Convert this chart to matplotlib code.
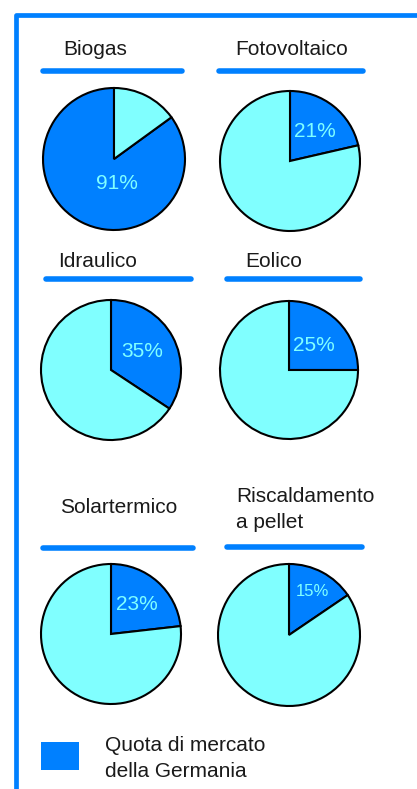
import matplotlib
matplotlib.use("Agg")
import matplotlib.pyplot as plt
from matplotlib.patches import Rectangle

# ---- data ----
categories = ["Biogas", "Fotovoltaico", "Idraulico", "Eolico", "Solartermico", "Riscaldamento\na pellet"]
germany_share_drawn = [85, 21.4, 34.3, 25, 23.2, 15.5]   # wedge sizes as drawn in the picture (%)
germany_share_label = [91, 21, 35, 25, 23, 15]            # printed labels (%)
legend_label = "Quota di mercato\ndella Germania"

# ---- style / layout ----
W, H = 417, 789
DARK = "#0080ff"
LIGHT = "#80ffff"
TXT = "#1a1a1a"
FONT = "Liberation Sans"

fig = plt.figure(figsize=(W / 100, H / 100), dpi=100)
ax = fig.add_axes([0, 0, 1, 1])

def Y(y):
    return H - y

# per-pie layout (pixel coords, y down)
centers = [(114, 159), (290, 161), (111, 370), (289, 370), (111, 634), (289, 635)]
radii = [71, 70, 70, 69, 70, 71]
counterclock = [True, False, False, False, False, False]
label_off = [(3, 24), (25, -30), (31, -19), (25, -25), (26, -29), (23, -43)]
label_size = [15, 15, 15, 15, 15, 12]
# (x, baseline y of last line, ha)
title_pos = [(95, 55, "center"), (292, 55, "center"), (98, 267, "center"),
             (274, 267, "center"), (119, 513, "center"), (236, 528, "left")]
underlines = [(43, 182, 71), (219, 363, 71), (46, 191, 279),
              (227, 360, 279), (43, 193, 548), (227, 362, 547)]

for i, cat in enumerate(categories):
    cx, cy = centers[i]
    s = germany_share_drawn[i]
    ax.pie([s, 100 - s], colors=[DARK, LIGHT], startangle=90,
           counterclock=counterclock[i], center=(cx, Y(cy)), radius=radii[i],
           wedgeprops=dict(edgecolor="black", linewidth=1.5), frame=True)
    dx, dy = label_off[i]
    ax.text(cx + dx, Y(cy + dy), f"{germany_share_label[i]}%", color=LIGHT,
            fontsize=label_size[i], family=FONT, ha="center", va="center")
    tx, ty, ha = title_pos[i]
    ax.text(tx, Y(ty), cat, fontsize=15, family=FONT, color=TXT, ha=ha,
            va="baseline", linespacing=1.45)
    x0, x1, uy = underlines[i]
    ax.plot([x0, x1], [Y(uy), Y(uy)], color=DARK, linewidth=4, solid_capstyle="round")

# border (left + top)
ax.plot([16, 16, W + 5], [-5, Y(15), Y(15)], color=DARK, linewidth=3.4,
        solid_joinstyle="round")

# legend
ax.add_patch(Rectangle((41, Y(770)), 38, 28, facecolor=DARK, edgecolor="none"))
ax.text(105, Y(777), legend_label, fontsize=15, family=FONT, color=TXT,
        ha="left", va="baseline", linespacing=1.45)

ax.set_xlim(0, W)
ax.set_ylim(0, H)
ax.set_aspect("auto")
ax.axis("off")

fig.savefig("out.png", dpi=100, facecolor="white")
